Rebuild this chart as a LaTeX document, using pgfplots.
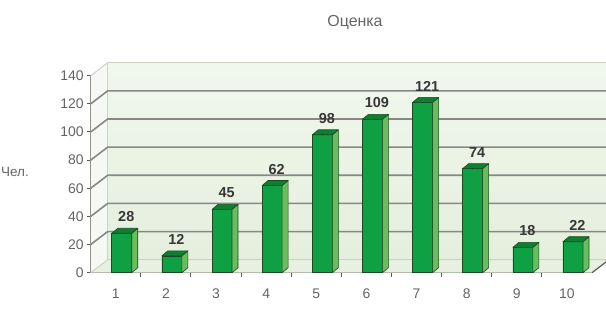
\documentclass[border=0pt]{standalone}
\usepackage{fontspec}
\setmainfont{Liberation Sans}
\usepackage{pgfplots}
\pgfplotsset{compat=1.18}
\usepackage{pgfplotstable}

\definecolor{frontc}{RGB}{14,160,66}
\definecolor{sidec}{RGB}{104,190,92}
\definecolor{topc}{RGB}{12,128,50}
\definecolor{edgec}{RGB}{30,72,36}
\definecolor{axisgray}{RGB}{90,90,90}
\definecolor{labelgray}{RGB}{100,100,100}
\definecolor{valgray}{RGB}{55,55,55}
\definecolor{gridc}{RGB}{135,135,135}
\definecolor{lightgridc}{RGB}{205,210,200}
\definecolor{wallbot}{RGB}{229,239,221}
\definecolor{walltop}{RGB}{241,247,237}
\definecolor{sidewall}{RGB}{246,249,243}
\definecolor{floorc}{RGB}{232,240,225}

\pgfplotstableread{
x v
1 28
2 12
3 45
4 62
5 98
6 109
7 121
8 74
9 18
10 22
}\data

\begin{document}
\begin{tikzpicture}
\begin{axis}[
  at={(90.7bp,43.3bp)}, anchor=south west,
  scale only axis, width=501.3bp, height=197bp,
  xmin=0.38, xmax=10.38, ymin=0, ymax=140,
  clip=false,
  axis x line*=bottom, axis y line*=left,
  axis line style={draw=axisgray, line width=1.2bp},
  xtick={1,...,10},
  x tick style={draw=none},
  extra x ticks={1.38,2.38,3.38,4.38,5.38,6.38,7.38,8.38,9.38},
  extra x tick labels={},
  extra x tick style={x tick style={draw=axisgray, line width=1bp}},
  ytick={0,20,...,140},
  y tick style={draw=axisgray, line width=1bp},
  tick align=outside, major tick length=4bp,
  tick label style={font=\fontsize{14}{16}\selectfont, text=labelgray},
  /pgf/number format/assume math mode=true,
  xticklabel style={yshift=-9bp, xshift=-6bp},
  yticklabel style={xshift=0.5bp},
]
% side wall
\fill[sidewall] (axis cs:0.38,0) -- (axis cs:0.38,140) -- ([shift={(17bp,13bp)}]axis cs:0.38,140) -- ([shift={(17bp,13bp)}]axis cs:0.38,0) -- cycle;
% back wall
\shade[bottom color=wallbot, top color=walltop] ([shift={(17bp,13bp)}]axis cs:0.38,0) rectangle ([shift={(17bp,13bp)}]axis cs:10.38,140);
% floor
\fill[floorc] (axis cs:0.38,0) -- (axis cs:10.38,0) -- ([shift={(17bp,13bp)}]axis cs:10.38,0) -- ([shift={(17bp,13bp)}]axis cs:0.38,0) -- cycle;
% wall borders
\draw[lightgridc, line width=1bp] ([shift={(17bp,13bp)}]axis cs:0.38,0) -- ([shift={(17bp,13bp)}]axis cs:0.38,140) -- ([shift={(17bp,13bp)}]axis cs:10.38,140);
\draw[lightgridc, line width=1bp] (axis cs:0.38,140) -- ([shift={(17bp,13bp)}]axis cs:0.38,140);
\draw[lightgridc, line width=1bp] (axis cs:0.38,0) -- ([shift={(17bp,13bp)}]axis cs:0.38,0) -- ([shift={(17bp,13bp)}]axis cs:10.38,0);
\draw[axisgray, line width=1.2bp] (axis cs:10.38,0) -- ([shift={(17bp,13bp)}]axis cs:10.38,0);
% gridlines
\pgfplotsinvokeforeach{20,40,60,80,100,120}{
  \draw[gridc, line width=1.6bp] (axis cs:0.38,#1) -- ([shift={(17bp,13bp)}]axis cs:0.38,#1) -- ([shift={(17bp,13bp)}]axis cs:10.38,#1);
}
% side and top faces of bars
\addplot[scatter, only marks, mark=*, mark size=0.01pt,
  mark options={draw=none, fill=none},
  visualization depends on={\thisrow{v} \as \val},
  scatter/@pre marker code/.code={
    \fill[sidec, draw=edgec, line width=0.6bp, line join=round]
      (10bp,0bp) -- (16bp,5bp) -- (16bp,5bp-\val*1.407143bp) -- (10bp,-\val*1.407143bp) -- cycle;
    \fill[topc, draw=edgec, line width=0.6bp, line join=round]
      (-10bp,0bp) -- (10bp,0bp) -- (16bp,5bp) -- (-4bp,5bp) -- cycle;
  },
  scatter/@post marker code/.code={},
] table[x=x,y=v]{\data};
% front faces with values
\addplot[ybar, bar width=20bp, bar shift=0pt, fill=frontc, draw=edgec, line width=0.6bp,
  nodes near coords,
  nodes near coords style={font=\bfseries\fontsize{14.5}{16}\selectfont, text=valgray, anchor=south, xshift=4.5bp, yshift=10bp, inner sep=1bp},
] table[x=x,y=v]{\data};
\end{axis}
\node[font=\fontsize{16}{18}\selectfont, text=labelgray] at (355bp,293bp) {Оценка};
\node[font=\fontsize{13.5}{16}\selectfont, text=labelgray, anchor=west, inner sep=0pt] at (1bp,144bp) {Чел.};
\pgfresetboundingbox
\useasboundingbox (0,0) rectangle (606bp,316bp);
\end{tikzpicture}
\end{document}
